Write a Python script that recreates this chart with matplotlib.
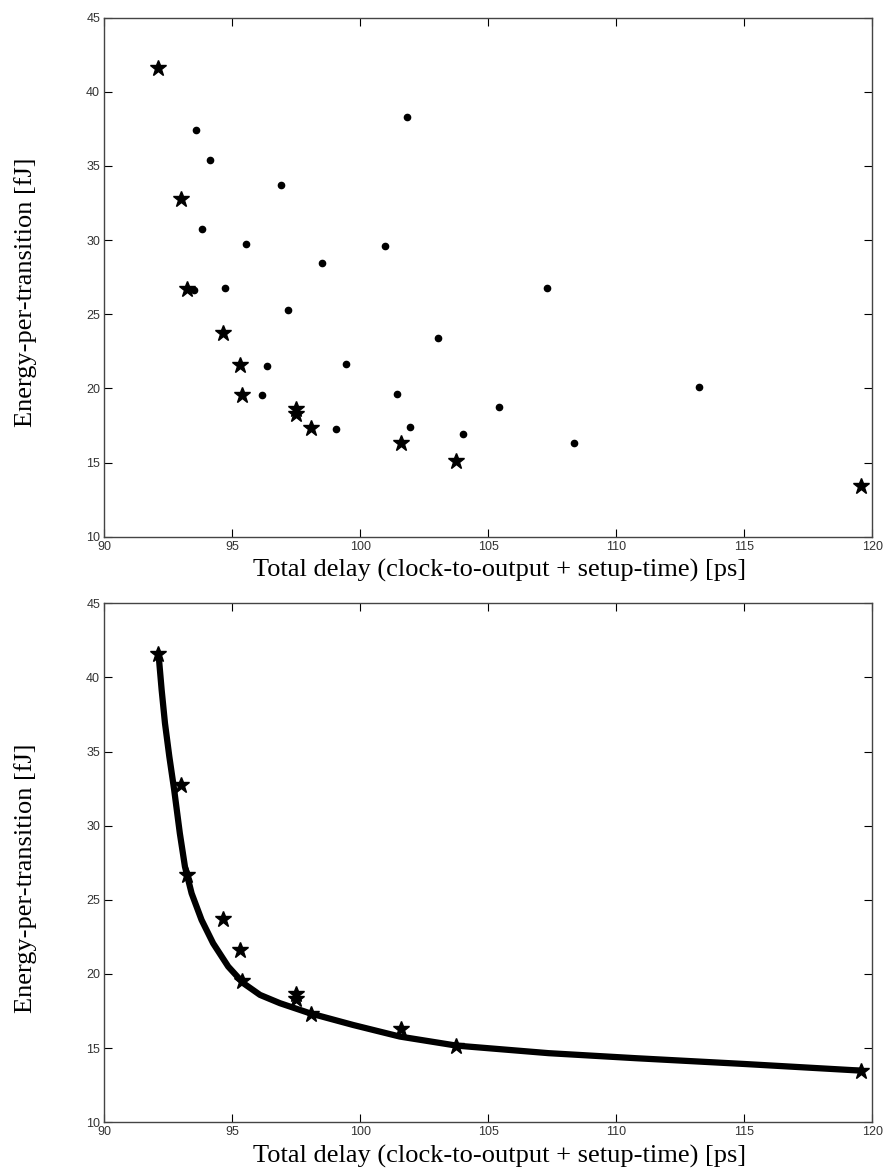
import matplotlib
matplotlib.use("Agg")
import matplotlib.pyplot as plt

# star points: the lowest-energy designs for each delay
star_delay = [92.08, 92.98, 93.24, 94.65, 95.30, 95.36, 97.47, 97.50, 98.06, 101.57, 103.72, 119.56]
star_energy = [41.6, 32.77, 26.69, 23.72, 21.6, 19.54, 18.63, 18.28, 17.33, 16.32, 15.11, 13.44]

# the remaining designs (dots)
dot_delay = [93.57, 94.14, 96.90, 101.84, 93.83, 95.54, 100.97, 98.52, 93.50, 94.70,
             97.16, 103.04, 96.36, 99.42, 96.17, 101.42, 99.04, 101.92, 104.0,
             107.29, 105.41, 108.35, 113.23]
dot_energy = [37.45, 35.38, 33.74, 38.30, 30.75, 29.72, 29.59, 28.46, 26.66, 26.79,
              25.29, 23.40, 21.5, 21.65, 19.56, 19.63, 17.29, 17.42, 16.95,
              26.75, 18.73, 16.30, 20.08]

# fitted curve
fit_delay = [92.12, 92.24, 92.37, 92.54, 92.73, 92.95, 93.15, 93.41, 93.80, 94.25,
             94.84, 95.43, 96.08, 96.86, 98.03, 99.72, 101.54, 103.75, 107.35,
             110.76, 115.0, 119.57]
fit_energy = [41.55, 39.16, 36.91, 34.66, 32.41, 29.49, 27.24, 25.44, 23.64, 22.07,
              20.5, 19.38, 18.59, 18.03, 17.35, 16.56, 15.78, 15.17, 14.66,
              14.32, 13.93, 13.48]

xticks = [90, 95, 100, 105, 110, 115, 120]
yticks = [10, 15, 20, 25, 30, 35, 40, 45]

fig = plt.figure(figsize=(8.83, 11.70), dpi=100)
ax1 = fig.add_axes([0.1181, 0.5413, 0.870, 0.4436])
ax2 = fig.add_axes([0.1181, 0.0408, 0.870, 0.4436])

ax1.plot(dot_delay, dot_energy, 'o', color='black', markersize=4.5, linestyle='none')
ax1.plot(star_delay, star_energy, '*', color='black', markersize=12, linestyle='none')

ax2.plot(fit_delay, fit_energy, '-', color='black', linewidth=4.5,
         solid_capstyle='round', solid_joinstyle='round')
ax2.plot(star_delay, star_energy, '*', color='black', markersize=12, linestyle='none')

for ax in (ax1, ax2):
    ax.set_xlim(90, 120)
    ax.set_ylim(10, 45)
    ax.set_xticks(xticks)
    ax.set_yticks(yticks)
    ax.tick_params(direction='in', length=6, width=0.8, top=True, right=True,
                   labelsize=9, labelcolor='#333333', pad=3)
    for lab in ax.get_xticklabels() + ax.get_yticklabels():
        lab.set_family('Liberation Sans')
    for s in ax.spines.values():
        s.set_color('#444444')
        s.set_linewidth(1.0)
    ax.set_xlabel('Total delay (clock-to-output + setup-time) [ps]',
                  family='Liberation Serif', fontsize=19, va='center')
    ax.set_ylabel('Energy-per-transition [fJ]',
                  family='Liberation Serif', fontsize=19, va='center')
    ax.xaxis.set_label_coords(0.514, -0.066)
    ax.yaxis.set_label_coords(-0.103, 0.47)

fig.savefig('out.png', dpi=100)
